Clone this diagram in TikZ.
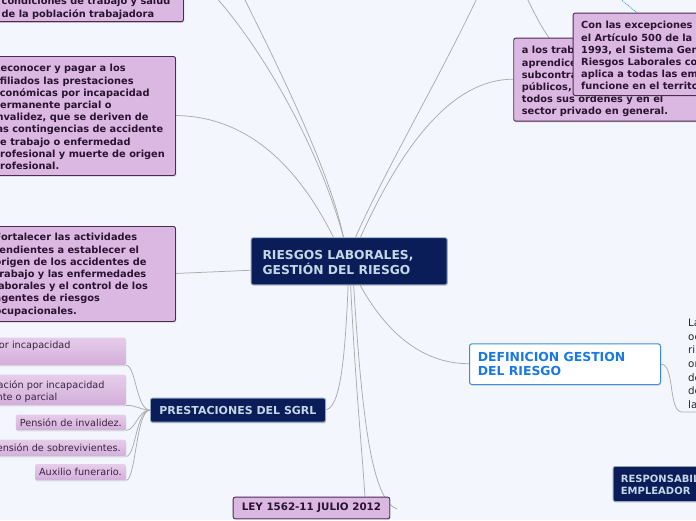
\documentclass[tikz,border=0pt]{standalone}
\usepackage{fontspec}
\setmainfont{DejaVu Sans}
\usetikzlibrary{shadows}
\definecolor{bgc}{HTML}{F3F6FD}
\definecolor{conn}{HTML}{ABABAB}
\definecolor{lilac}{HTML}{DAB8E2}
\definecolor{lilacbd}{HTML}{4E2A52}
\definecolor{lilactx}{HTML}{2B1230}
\definecolor{leaftop}{HTML}{E6CDEB}
\definecolor{leafbot}{HTML}{D3AFDA}
\definecolor{leaftx}{HTML}{3A2440}
\definecolor{navy}{HTML}{0B1D59}
\definecolor{navybd}{HTML}{8FA6BD}
\definecolor{navytx}{HTML}{C5D6E6}
\definecolor{defbd}{HTML}{3D8BE0}
\definecolor{deftx}{HTML}{1878E6}
\definecolor{dotblue}{HTML}{3C9BE8}
\definecolor{plaintx}{HTML}{262626}
\tikzset{
  connline/.style={draw=conn, line width=0.75pt},
  pbox/.style={draw=lilacbd, fill=lilac, line width=0.9pt, rounded corners=2pt,
    drop shadow={shadow xshift=0.8pt, shadow yshift=-1.2pt, opacity=0.3}, inner sep=0pt, anchor=north west},
  ptext/.style={text=lilactx, font=\fontsize{9.8}{12.2}\selectfont\bfseries, align=left, inner sep=0pt, anchor=north west},
  leafbox/.style={top color=leaftop, bottom color=leafbot, draw=none, rounded corners=2pt,
    drop shadow={shadow xshift=0.6pt, shadow yshift=-1.2pt, opacity=0.22}, inner ysep=0pt, inner xsep=4pt,
    text=leaftx, font=\fontsize{9.7}{12.7}\selectfont, anchor=north east},
  leaftext/.style={text=leaftx, font=\fontsize{9.7}{12.7}\selectfont, align=left, inner sep=0pt},
  navybox/.style={draw=navybd, fill=navy, line width=0.9pt, rounded corners=2pt,
    drop shadow={shadow xshift=0.6pt, shadow yshift=-1.2pt, opacity=0.3}, inner sep=0pt, anchor=north west, text=navytx},
  navytext/.style={text=navytx, align=left, inner sep=0pt, anchor=north west},
  defbox/.style={draw=defbd, fill=white, line width=1pt, rounded corners=2.5pt,
    drop shadow={shadow xshift=0.6pt, shadow yshift=-1.2pt, opacity=0.25}, inner sep=0pt, anchor=north west},
}
\begin{document}
\begin{tikzpicture}[x=1pt, y=-1pt]
\useasboundingbox (0,0) rectangle (696,520);
\fill[bgc] (0,0) rectangle (696,520);

% coordinates for free ends off the picture
\coordinate (offTL1) at (200,-20);
\coordinate (offTL2) at (235,-20);
\coordinate (offTR) at (490,-30);
\coordinate (offUP) at (518,-20);
\coordinate (offBL) at (612,-8);
\coordinate (stub) at (397,509);

% central node first (for connector anchors)
\node[navybox, minimum width=196pt, minimum height=47pt] (c) at (250.7,237.3) {};

\coordinate (bRec) at (175,115.5);
\coordinate (bFor) at (175,273.5);
\coordinate (bLow) at (513.3,79.2);
\coordinate (bUp) at (572.7,53.9);
\coordinate (bUpTop) at (637,12.7);
\coordinate (bDef) at (469,363.7);
\coordinate (bPre) at (325,409.7);
\coordinate (bLey) at (365,496.7);

% connectors from the central node
\draw[connline] (bRec) .. controls (250,116) and (300,170) .. ([xshift=-15.7pt]c.north);
\draw[connline] (offTL1) .. controls (260,40) and (320,150) .. ([xshift=-5.7pt]c.north);
\draw[connline] (offTL2) .. controls (275,60) and (330,170) .. ([xshift=-5.7pt]c.north);
\draw[connline] ([xshift=6.3pt]c.north) .. controls (390,160) and (450,60) .. (offTR);
\draw[connline] ([xshift=11.3pt]c.north) .. controls (400,150) and (450,79) .. (bLow);
\draw[connline] (bFor) -- ([yshift=-9pt]c.west);
\draw[connline] ([xshift=-1pt]c.south) .. controls (345,360) and (340,410) .. (bPre);
\draw[connline] ([xshift=1.5pt]c.south) .. controls (355,380) and (362,450) .. (bLey);
\draw[connline] ([xshift=4.5pt]c.south) .. controls (362,420) and (372,500) .. (stub);
\draw[connline] ([xshift=11pt]c.south) .. controls (385,330) and (420,363.7) .. (bDef);
\draw[connline] (offUP) .. controls (538,20) and (552,53.9) .. (bUp);
\draw[dotblue, densely dotted, line width=0.9pt] (offBL) -- (bUpTop);

% central node text
\node[navytext, font=\fontsize{12.3}{14.3}\selectfont\bfseries] (ct) at (262.3,250.5) {RIESGOS LABORALES,\\GESTIÓN DEL RIESGO};

% top-left box
\node[pbox, minimum width=189pt, minimum height=40pt, anchor=south west] (tl) at (-6,22) {};
\node[ptext] (tlt) at (1.5,-2.8) {condiciones de trabajo y salud\\de la población trabajadora};

% Reconocer box
\node[pbox, minimum width=189pt, minimum height=119pt] (rec) at (-14,56) {};
\node[ptext] (rect) at (-7,64.2) {Reconocer y pagar a los\\afiliados las prestaciones\\económicas por incapacidad\\permanente parcial o\\invalidez, que se deriven de\\las contingencias de accidente\\de trabajo o enfermedad\\profesional y muerte de origen\\profesional.};

% Fortalecer box
\node[pbox, minimum width=189pt, minimum height=95pt] (for) at (-14,226) {};
\node[ptext] (fort) at (-5.5,233.2) {Fortalecer las actividades\\tendientes a establecer el\\origen de los accidentes de\\trabajo y las enfermedades\\laborales y el control de los\\agentes de riesgos\\ocupacionales.};

% lower right box and upper right box
\node[pbox, minimum width=200pt, minimum height=83pt] (low) at (513.3,37.7) {};
\node[ptext] (lowt) at (521.7,46.2) {a los trabajadores,\\aprendices,\\subcontratistas,\\públicos, oficiales,\\todos sus órdenes y en el\\sector privado en general.};
\node[pbox, minimum width=200pt, minimum height=82.3pt] (up) at (572.7,12.7) {};
\node[ptext] (upt) at (581,21.2) {Con las excepciones\\el Artículo 500 de la\\1993, el Sistema General\\Riesgos Laborales con\\aplica a todas las empresas\\funcione en el territorio};

% PRESTACIONES
\node[navybox, minimum width=175pt, minimum height=24pt, font=\fontsize{11}{13}\selectfont\bfseries] (prest) at (150,397.7) {PRESTACIONES DEL SGRL};

% leaves
\node[leafbox, minimum width=150pt, minimum height=27.7pt] (l1) at (126,337.3) {};
\node[leaftext, anchor=east] (l1t) at (70.7,345.7) {Subsidio por incapacidad};
\node[leafbox, minimum width=170pt, minimum height=30.7pt] (l2) at (126,374.3) {};
\node[leaftext, anchor=north west] (l2t) at (-47,380.2) {Indemnización por incapacidad\\permanente o parcial};
\node[leafbox, minimum height=15.7pt] (l3) at (126,414.3) {Pensión de invalidez.};
\node[leafbox, minimum height=16.7pt, inner xsep=5pt] (l4) at (126,439.3) {Pensión de sobrevivientes.};
\node[leafbox, minimum height=16pt] (l5) at (126,464) {Auxilio funerario.};

\draw[connline] (l1.south east) .. controls (136,365) and (136,409.7) .. (prest.west);
\draw[connline] (l2.south east) .. controls (136,405) and (140,409.7) .. (prest.west);
\draw[connline] (l3.south east) .. controls (136,430) and (138,409.7) .. (prest.west);
\draw[connline] (l4.south east) .. controls (136,456) and (136,409.7) .. (prest.west);
\draw[connline] (l5.south east) .. controls (136,480) and (136,409.7) .. (prest.west);

% LEY box
\node[pbox, minimum width=156.6pt, minimum height=21.6pt, text=lilactx, font=\fontsize{10.3}{12}\selectfont\bfseries] (ley) at (232.7,496.7) {LEY 1562-11 JULIO 2012};

% DEFINICION
\node[defbox, minimum width=191pt, minimum height=40.7pt] (def) at (469,343.3) {};
\node[navytext, text=deftx, font=\fontsize{12.4}{14.3}\selectfont\bfseries] (deft) at (477.7,352.1) {DEFINICION GESTION\\DEL RIESGO};
\node[font=\fontsize{10.3}{13.7}\selectfont, text=plaintx, align=left, inner xsep=6pt, inner ysep=3pt, anchor=south west] (dtext) at (682,412) {La\\oc\\ri\\or\\de\\de\\la};
\draw[connline] (def.east) .. controls (675,364) and (668,412) .. (dtext.south west) -- (dtext.south east);

% RESPONSABILIDADES
\node[navybox, minimum width=120pt, minimum height=35pt] (resp) at (612.7,466) {};
\node[navytext, font=\fontsize{10}{11.7}\selectfont\bfseries] (respt) at (620.7,474.7) {RESPONSABILIDADES DEL\\EMPLEADOR};
\end{tikzpicture}
\end{document}
